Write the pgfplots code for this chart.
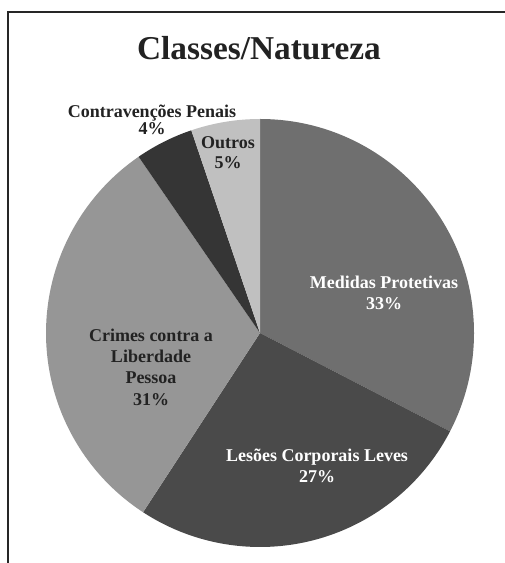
\documentclass[border=0pt]{standalone}
\usepackage{pgfplots}
\pgfplotsset{compat=1.18}
\usepackage{fontspec}
\setmainfont{Liberation Serif}

\definecolor{cMed}{HTML}{6F6F6F}
\definecolor{cLes}{HTML}{4A4A4A}
\definecolor{cCri}{HTML}{969696}
\definecolor{cCon}{HTML}{353535}
\definecolor{cOut}{HTML}{C0C0C0}
\definecolor{txt}{HTML}{222222}

\begin{document}
\begin{tikzpicture}
\begin{axis}[scale only axis, width=378.75pt, height=422.25pt,
  xmin=0, xmax=505, ymin=0, ymax=563, hide axis, clip=false]
% pie shares (percent, read from the slice geometry):
% Medidas 32.6, Lesoes 26.6, Crimes 31.2, Contravencoes 4.4, Outros 5.2
\def\R{160.5pt}
\fill[cMed] (axis cs:260,230) -- ++(90:\R) arc[start angle=90, delta angle=-3.6*32.6, radius=\R] -- cycle;
\fill[cLes] (axis cs:260,230) -- ++(90-3.6*32.6:\R) arc[start angle=90-3.6*32.6, delta angle=-3.6*26.6, radius=\R] -- cycle;
\fill[cCri] (axis cs:260,230) -- ++(90-3.6*59.2:\R) arc[start angle=90-3.6*59.2, delta angle=-3.6*31.2, radius=\R] -- cycle;
\fill[cCon] (axis cs:260,230) -- ++(90-3.6*90.4:\R) arc[start angle=90-3.6*90.4, delta angle=-3.6*4.4, radius=\R] -- cycle;
\fill[cOut] (axis cs:260,230) -- ++(90-3.6*94.8:\R) arc[start angle=90-3.6*94.8, delta angle=-3.6*5.2, radius=\R] -- cycle;
% frame
\draw[line width=1.6pt, black!85] (axis cs:505,551) -- (axis cs:8,551) -- (axis cs:8,0);
% title
\node[font=\bfseries\fontsize{25}{29}\selectfont, text=txt] at (axis cs:259,515) {Classes/Natureza};
% labels
\node[font=\bfseries\fontsize{13.5}{16}\selectfont, align=center, text=white] at (axis cs:384,270) {Medidas Protetivas\\33\%};
\node[font=\bfseries\fontsize{13.5}{16}\selectfont, align=center, text=white] at (axis cs:317,97) {Lesões Corporais Leves\\27\%};
\node[font=\bfseries\fontsize{13.5}{16}\selectfont, align=center, text=txt] at (axis cs:151,196) {Crimes contra a\\Liberdade\\Pessoa\\31\%};
\node[font=\bfseries\fontsize{13.5}{12.5}\selectfont, align=center, text=txt] at (axis cs:152,443) {Contravenções Penais\\4\%};
\node[font=\bfseries\fontsize{13.5}{15}\selectfont, align=center, text=txt] at (axis cs:228,410) {Outros\\5\%};
\end{axis}
\pgfresetboundingbox
\path[use as bounding box] (current axis.south west) rectangle (current axis.north east);
\end{tikzpicture}
\end{document}
